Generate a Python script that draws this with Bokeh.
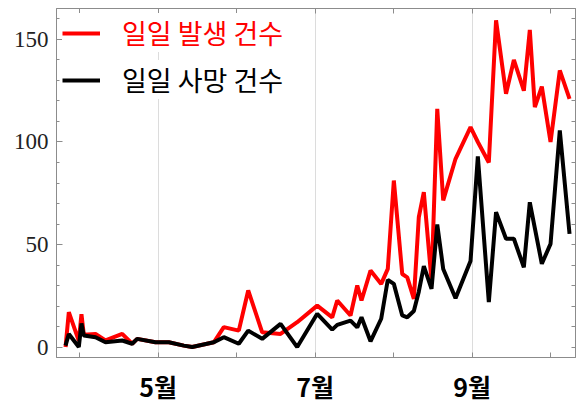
from bokeh.plotting import figure
from bokeh.models import FixedTicker, LinearAxis, Legend, LegendItem, Range1d
from bokeh.embed import file_html
from bokeh.resources import INLINE

# x position in months (4.0 = start of April)
month_pos = [3.822, 3.864, 3.991, 4.025, 4.055, 4.204, 4.331, 4.544, 4.671, 4.735,
             4.968, 5.138, 5.329, 5.436, 5.711, 5.838, 6.029, 6.149, 6.327, 6.561,
             6.773, 7.028, 7.219, 7.283, 7.452, 7.538, 7.592, 7.707, 7.843, 7.927,
             8.004, 8.111, 8.175, 8.259, 8.322, 8.386, 8.484, 8.557, 8.633, 8.790,
             8.981, 9.074, 9.214, 9.306, 9.433, 9.533, 9.660, 9.736, 9.800, 9.889,
             10.000, 10.118, 10.242]
daily_cases = [0, 17, 3, 16, 6, 6.4, 3.2, 6.4, 1.6, 4,
               2.3, 2.3, 0.7, 0, 2.3, 9.7, 8, 27.6, 7.2, 6.4,
               12.1, 20.2, 14.5, 22.7, 15.4, 30, 22.7, 37.3, 30.8, 38.1,
               81.2, 35.6, 34, 23.5, 63.3, 75.5, 32.4, 116.2, 71.5, 91.8,
               107.2, 100, 90, 159.3, 123.5, 140, 125, 154.7, 117, 127,
               100, 134.9, 121]
daily_deaths = [0.7, 6.4, 0, 11.5, 5.6, 4.8, 2.3, 3.2, 1.6, 4,
                2.3, 2.3, 0.7, 0, 2.3, 4.8, 1.6, 8, 4, 11.3,
                0, 16.2, 8.5, 10.8, 12.9, 9.6, 14.5, 2.8, 13.8, 32.8,
                30.8, 15.4, 14.5, 17.6, 27, 39.5, 28.4, 59.8, 38.1, 23.8,
                42, 93, 21.9, 65.8, 52.8, 52.8, 38.9, 70.6, 58, 40.6,
                50.3, 105.6, 55.2]
labeled_months = [5, 7, 9]
month_labels = {5: "5월", 7: "7월", 9: "9월"}
all_months = [4, 5, 6, 7, 8, 9, 10]
unlabeled_months = [4, 6, 8, 10]
y_ticks = [0, 50, 100, 150]
y_minor = list(range(0, 170, 10))
series_names = ["일일 발생 건수", "일일 사망 건수"]

frame_col = "#8c8c8c"

p = figure(width=576, height=407, output_backend="svg", toolbar_location=None,
           x_range=Range1d(3.707, 10.318), y_range=Range1d(-5.1, 165.1),
           min_border_left=56, min_border_right=1, min_border_top=8, min_border_bottom=50)
p.background_fill_color = "white"
p.border_fill_color = "white"
p.outline_line_color = frame_col

r_cases = p.line(month_pos, daily_cases, line_color="#ff0000", line_width=4)
r_deaths = p.line(month_pos, daily_deaths, line_color="#000000", line_width=4)

# bottom axis
xa = p.xaxis[0]
xa.ticker = FixedTicker(ticks=labeled_months, minor_ticks=unlabeled_months)
xa.major_label_overrides = month_labels
xa.major_label_text_font = "Noto Sans CJK KR"
xa.major_label_text_font_style = "bold"
xa.major_label_text_font_size = "25px"
xa.major_label_text_color = "#000000"
xa.major_label_standoff = 10
xa.axis_line_color = frame_col
xa.major_tick_line_color = frame_col
xa.minor_tick_line_color = frame_col
xa.major_tick_in = 5
xa.major_tick_out = 0
xa.minor_tick_in = 5
xa.minor_tick_out = 0

# left axis
ya = p.yaxis[0]
ya.ticker = FixedTicker(ticks=y_ticks, minor_ticks=y_minor)
ya.major_label_text_font = "Liberation Serif"
ya.major_label_text_font_size = "23px"
ya.major_label_text_color = "#222222"
ya.major_label_standoff = 8
ya.axis_line_color = frame_col
ya.major_tick_line_color = frame_col
ya.minor_tick_line_color = frame_col
ya.major_tick_in = 6
ya.major_tick_out = 0
ya.minor_tick_in = 3
ya.minor_tick_out = 0

# top and right frame ticks (no labels)
top = LinearAxis(ticker=FixedTicker(ticks=[], minor_ticks=all_months),
                 major_tick_in=0, major_tick_out=0, minor_tick_in=5, minor_tick_out=0,
                 major_label_standoff=0,
                 axis_line_color=frame_col, minor_tick_line_color=frame_col)
p.add_layout(top, "above")
right = LinearAxis(ticker=FixedTicker(ticks=[], minor_ticks=y_minor),
                   major_tick_in=0, major_tick_out=0, minor_tick_in=4, minor_tick_out=0,
                   major_label_standoff=0,
                   axis_line_color=frame_col, minor_tick_line_color=frame_col)
p.add_layout(right, "right")

p.xgrid.ticker = FixedTicker(ticks=labeled_months)
p.xgrid.grid_line_color = "#dcdcdc"
p.ygrid.visible = False

common = dict(border_line_color=None, background_fill_color="white", background_fill_alpha=1,
              padding=0, margin=0, glyph_width=38, glyph_height=34, label_height=34,
              label_standoff=22, label_text_font="Noto Sans CJK KR",
              label_text_font_size="27px", spacing=0)
leg1 = Legend(items=[LegendItem(label=series_names[0], renderers=[r_cases])],
              location=(6, 305), label_text_color="#ff0000", **common)
leg2 = Legend(items=[LegendItem(label=series_names[1], renderers=[r_deaths])],
              location=(6, 258), label_text_color="#000000", **common)
p.add_layout(leg1, "center")
p.add_layout(leg2, "center")

open("out.html", "w").write(file_html(p, INLINE))
